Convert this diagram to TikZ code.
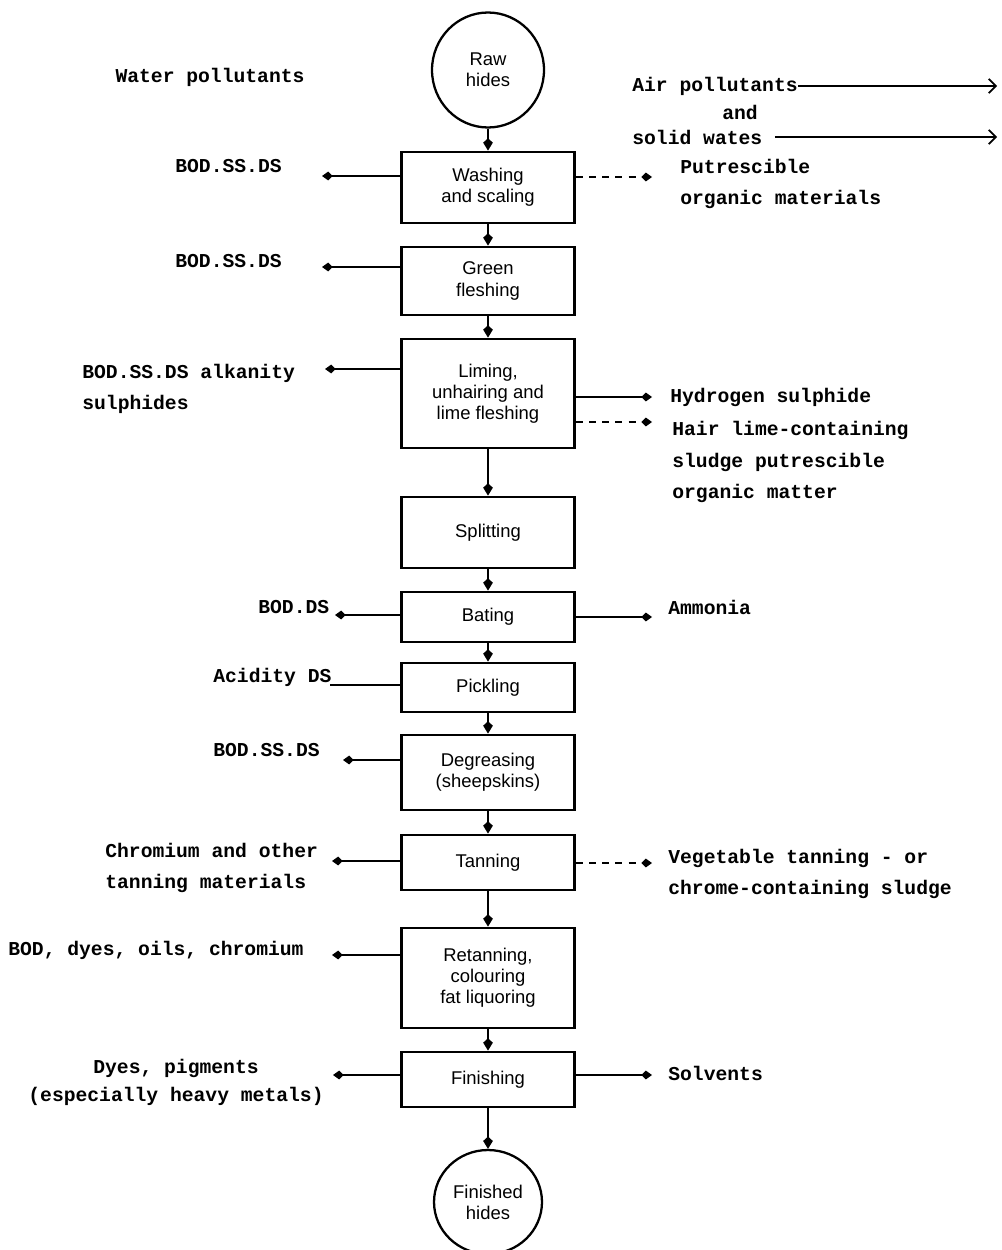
\documentclass[tikz,border=0pt]{standalone}
\usepackage{fontspec}
\setmainfont{Liberation Sans}
\newfontfamily\typewfont{Liberation Mono}
\usepackage{tikz}
\usetikzlibrary{arrows.meta, shapes.geometric, positioning}

\tikzset{
    stage/.style={draw, line width=1.6pt, minimum width=3.46cm, align=center,
        font=\fontsize{10.5}{12}\selectfont, inner sep=2pt},
    hide/.style={draw, ellipse, line width=1.3pt, align=center,
        font=\fontsize{10.5}{12}\selectfont, inner sep=0pt},
    pollut/.style={font=\typewfont\bfseries\fontsize{11.2}{18}\selectfont,
        align=left, inner sep=0pt},
    flow/.style={line width=1.2pt, -{Kite[length=7pt,width=5.5pt,inset=2.5pt]}},
    side/.style={line width=1pt, -{Kite[length=6pt,width=5pt,inset=2.5pt]}},
    sidedash/.style={side, dash pattern=on 4pt off 3.5pt},
    airout/.style={line width=1pt, -{Straight Barb[length=4pt,width=8pt]}}
}

\begin{document}
\begin{tikzpicture}[x=0.02cm, y=-0.02cm]
    \useasboundingbox (0,0) rectangle (1001,1250);

    % Process stages
    \node[hide, minimum width=2.24cm, minimum height=2.3cm] (raw) at (488,70) {Raw\\hides};
    \node[stage, minimum height=1.42cm] (wash) at (488,187.5) {Washing\\and scaling};
    \node[stage, minimum height=1.36cm] (green) at (488,281) {Green\\fleshing};
    \node[stage, minimum height=2.18cm] (lime) at (488,393.5) {Liming,\\unhairing and\\lime fleshing};
    \node[stage, minimum height=1.42cm] (split) at (488,532.5) {Splitting};
    \node[stage, minimum height=1.0cm] (bate) at (488,617) {Bating};
    \node[stage, minimum height=0.98cm] (pickle) at (488,687.5) {Pickling};
    \node[stage, minimum height=1.5cm] (degr) at (488,772.5) {Degreasing\\(sheepskins)};
    \node[stage, minimum height=1.1cm] (tan) at (488,862.5) {Tanning};
    \node[stage, minimum height=2.0cm] (retan) at (488,978) {Retanning,\\colouring\\fat liquoring};
    \node[stage, minimum height=1.1cm] (finish) at (488,1079.5) {Finishing};
    \node[hide, minimum width=2.16cm, minimum height=2.08cm] (done) at (488,1202) {Finished\\hides};

    \foreach \a/\b in {raw/wash, wash/green, green/lime, lime/split, split/bate,
        bate/pickle, pickle/degr, degr/tan, tan/retan, retan/finish, finish/done} {
        \draw[flow] (\a) -- (\b);
    }

    % Water pollutants
    \node[pollut] (water) at (210,77) {Water pollutants};
    \node[pollut, anchor=west] (wwash) at (175,166) {BOD.SS.DS};
    \node[pollut, anchor=west] (wgreen) at (175,261) {BOD.SS.DS};
    \node[pollut, anchor=west] (wlime) at (82,389) {BOD.SS.DS alkanity\\sulphides};
    \node[pollut, anchor=west] (wbate) at (258,607) {BOD.DS};
    \node[pollut, anchor=west] (wpickle) at (213,677) {Acidity DS};
    \node[pollut, anchor=west] (wdegr) at (213,750) {BOD.SS.DS};
    \node[pollut, anchor=west] (wtan) at (105,868) {Chromium and other\\tanning materials};
    \node[pollut, anchor=west] (wretan) at (8,950) {BOD, dyes, oils, chromium};
    \node[pollut, align=center, font=\typewfont\bfseries\fontsize{11.2}{16}\selectfont]
        (wfinish) at (176,1082) {Dyes, pigments\\(especially heavy metals)};

    \foreach \s/\y/\e in {wash/176/322, green/267/322, lime/369/325, bate/615/335,
        degr/760/343, tan/861/332, retan/955/332, finish/1075/333} {
        \coordinate (l-\s) at (\e,\y);
        \draw[side] (\s.west |- l-\s) -- (l-\s);
    }
    \coordinate (l-pickle) at (330,685);
    \draw[line width=1pt] (pickle.west |- l-pickle) -- (l-pickle);

    % Air pollutants and solid wates
    \node[pollut, anchor=west] (air) at (632,86) {Air pollutants};
    \node[pollut, anchor=west] (andw) at (722,112) {and};
    \node[pollut, anchor=west] (solid) at (632,137) {solid wates};
    \coordinate (edge) at (997,0);
    \draw[airout] (air.east) -- (air.east -| edge);
    \draw[airout] ([xshift=7pt]solid.east) -- (solid.east -| edge);

    \node[pollut, anchor=west] (rwash) at (680,184) {Putrescible\\organic materials};
    \node[pollut, anchor=west] (rlime1) at (670,397) {Hydrogen sulphide};
    \node[pollut, anchor=west] (rlime2) at (672,462) {Hair lime-containing\\sludge putrescible\\organic matter};
    \node[pollut, anchor=west] (rbate) at (668,607) {Ammonia};
    \node[pollut, anchor=west] (rtan) at (668,874) {Vegetable tanning - or\\chrome-containing sludge};
    \node[pollut, anchor=west] (rfinish) at (668,1073) {Solvents};

    \foreach \n/\s/\y/\st in {1/wash/177/sidedash, 2/lime/397/side, 3/lime/422/sidedash,
        4/bate/617/side, 5/tan/863/sidedash, 6/finish/1075/side} {
        \coordinate (r-\n) at (652,\y);
        \draw[\st] (\s.east |- r-\n) -- (r-\n);
    }
\end{tikzpicture}
\end{document}
